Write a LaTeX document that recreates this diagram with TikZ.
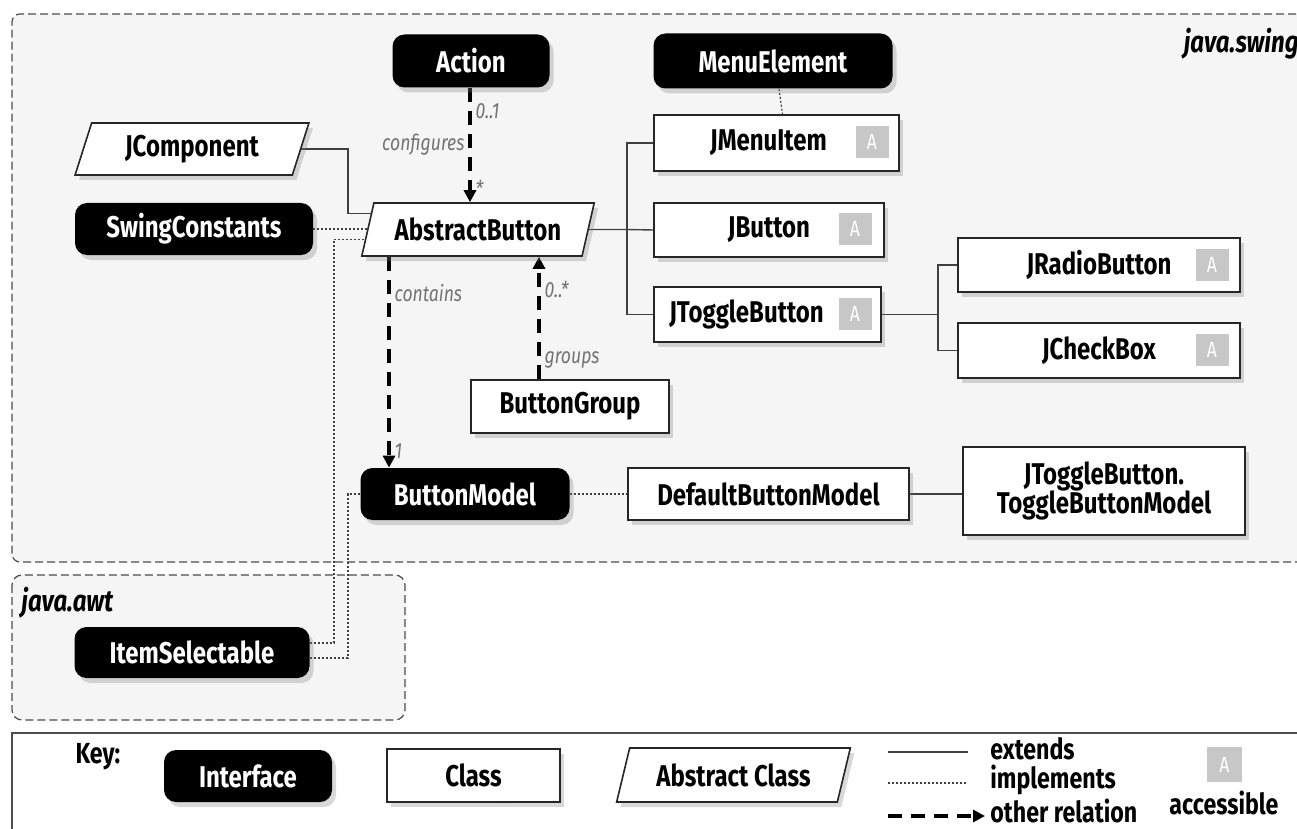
\documentclass[tikz,border=0pt]{standalone}
\usepackage{fontspec}
\setmainfont{Fira Sans}[FakeStretch=0.8]
\usetikzlibrary{arrows.meta}
\usetikzlibrary{shapes.geometric}
\usetikzlibrary{shadows}
\usetikzlibrary{backgrounds}

\tikzset{
  box/.style={font=\fontsize{15}{16.5}\selectfont\bfseries, inner sep=2pt,
    drop shadow={shadow xshift=2pt, shadow yshift=-2.5pt, opacity=0.3}},
  iface/.style={box, fill=black, text=white, rounded corners=6pt},
  cls/.style={box, draw=black!85, line width=0.8pt, fill=white},
  abst/.style={box, draw=black!85, line width=0.8pt, fill=white, trapezium,
    trapezium left angle=72, trapezium right angle=108, trapezium stretches=true},
  acc/.style={fill=black!22, text=white, font=\fontsize{11}{12}\selectfont,
    minimum width=16.5pt, minimum height=16pt, inner sep=0pt},
  ext/.style={draw=black!75, line width=0.7pt},
  impl/.style={draw=black!75, line width=0.6pt, dash pattern=on 1pt off 1pt},
  rel/.style={draw=black, line width=1.6pt, dash pattern=on 7pt off 4.5pt,
    -{Triangle[length=6pt,width=6pt]}},
  lbl/.style={font=\fontsize{11}{12}\selectfont\itshape, text=black!55, inner sep=2pt},
  pkg/.style={draw=black!70, line width=0.6pt, dash pattern=on 4pt off 2pt, fill=black!4},
  pkgname/.style={font=\fontsize{15}{16.5}\selectfont\bfseries\itshape, inner sep=0pt},
  keytext/.style={font=\fontsize{14.5}{16}\selectfont\bfseries, inner sep=0pt},
}

\begin{document}
\begin{tikzpicture}[x=0.5pt, y=-0.5pt]
  \useasboundingbox (0,0) rectangle (1297,829);

  % java.swing
  \node[pkgname, anchor=base east] (swingpkg) at (1299,53) {java.swing};
  \node[iface, minimum width=78.5pt, minimum height=26.5pt] (action) at (471,61) {Action};
  \node[iface, minimum width=119.5pt, minimum height=27.5pt] (menuel) at (773,61) {MenuElement};
  \node[abst, minimum width=117pt, minimum height=26pt] (jcomp) at (192,149) {JComponent};
  \node[iface, minimum width=119pt, minimum height=26pt] (swing) at (194,229) {SwingConstants};
  \node[abst, minimum width=117pt, minimum height=26.5pt] (absbtn) at (478,229.5) {AbstractButton};

  \node[cls, minimum width=122.5pt, minimum height=28pt] (jmenuitem) at (776.5,143) {JMenuItem\hspace*{8pt}};
  \node[acc] (jmenuitemA) at (872,142) {A};
  \node[cls, minimum width=115pt, minimum height=27pt] (jbutton) at (769,230) {JButton};
  \node[acc] (jbuttonA) at (855,229) {A};
  \node[cls, minimum width=113.5pt, minimum height=27.5pt] (jtoggle) at (767.5,314.5) {JToggleButton\hspace*{21pt}};
  \node[acc] (jtoggleA) at (855,314) {A};
  \node[cls, minimum width=141pt, minimum height=27pt] (jradio) at (1099,265) {JRadioButton};
  \node[acc] (jradioA) at (1212,265) {A};
  \node[cls, minimum width=141pt, minimum height=27.5pt] (jcheck) at (1099,350.5) {JCheckBox};
  \node[acc] (jcheckA) at (1212,350) {A};

  \node[cls, minimum width=99pt, minimum height=26.5pt] (btngroup) at (570,406.5) {ButtonGroup};
  \node[iface, minimum width=104.5pt, minimum height=26pt] (btnmodel) at (465,494) {ButtonModel};
  \node[cls, minimum width=140.5pt, minimum height=26pt] (defmodel) at (768.5,494) {DefaultButtonModel};
  \node[cls, minimum width=141pt, minimum height=44pt, align=center] (tbmodel) at (1104,491)
    {JToggleButton.\\[-2pt]ToggleButtonModel};

  % java.awt
  \node[pkgname, anchor=base west] (awtpkg) at (21,611) {java.awt};
  \node[iface, minimum width=117.5pt, minimum height=25.5pt] (itemsel) at (192,652.5) {ItemSelectable};

  % key
  \node[keytext] (keytitle) at (98,757) {Key:};
  \node[iface, minimum width=84pt, minimum height=26pt] (keyiface) at (248,776) {Interface};
  \node[cls, minimum width=86.5pt, minimum height=26.5pt] (keycls) at (473.5,775.5) {Class};
  \node[abst, minimum width=117.5pt, minimum height=27pt] (keyabst) at (733.5,775) {Abstract Class};
  \node[keytext, anchor=west] (extlbl) at (990,749) {extends};
  \node[keytext, anchor=west] (impllbl) at (990,780) {implements};
  \node[keytext, anchor=west] (rellbl) at (990,811) {other relation};
  \node[acc, minimum width=17.5pt, minimum height=17.5pt] (keyacc) at (1224.5,764.5) {A};
  \node[keytext] (acclbl) at (1224,803) {accessible};

  \coordinate (extA) at (888,752);
  \coordinate (extB) at (968,752);
  \coordinate (implA) at (888,783);
  \coordinate (implB) at (968,783);
  \coordinate (relA) at (888,816);
  \coordinate (relB) at (985,816);

  \coordinate (jcbend) at (348,149);
  \coordinate (abfork) at (627,229.5);
  \coordinate (tgfork) at (938,314.5);
  \coordinate (awtbendA) at (334,643);
  \coordinate (awtbendB) at (348,658);
  \coordinate (cfgx) at (470,0);
  \coordinate (contx) at (389,0);
  \coordinate (grpx) at (539,0);

  \begin{pgfonlayer}{background}
    \draw[pkg, rounded corners=4pt] (1320,14) -- (12,14) -- (12,562) -- (1320,562);
    \draw[pkg, rounded corners=5pt] (12,575) rectangle (405,720);
    \draw[black!70, line width=1.1pt, fill=white] (1320,733) -- (12,733) -- (12,850);

    % extends
    \draw[ext] (jcomp.east) -- (jcbend) |- ([shift={(5,-16)}]absbtn.west);
    \draw[ext] (absbtn.east) -- (abfork);
    \draw[ext] (abfork) |- (jmenuitem.west);
    \draw[ext] (abfork) -- (jbutton.west);
    \draw[ext] (abfork) |- (jtoggle.west);
    \draw[ext] (jtoggle.east) -- (tgfork);
    \draw[ext] (tgfork) |- (jradio.west);
    \draw[ext] (tgfork) |- (jcheck.west);
    \draw[ext] (defmodel.east) -- (defmodel.east -| tbmodel.west);

    % implements
    \draw[impl] (swing.east) -- (swing.east -| absbtn.west);
    \draw[impl] ([shift={(-3,10)}]absbtn.west) -| (awtbendA) -- (itemsel.east |- awtbendA);
    \draw[impl] (btnmodel.west) -| (awtbendB) -- (itemsel.east |- awtbendB);
    \draw[impl] (btnmodel) -- (defmodel);
    \draw[impl] ([xshift=3pt]menuel.south) -- ([xshift=3pt]jmenuitem.north);

    % other relations
    \draw[rel] (action.south -| cfgx) --
      node[lbl, pos=0.2, right] {0..1}
      node[lbl, pos=0.5, left] {configures}
      node[lbl, pos=0.88, right] {*} (absbtn.north -| cfgx);
    \draw[rel] (absbtn.south -| contx) --
      node[lbl, pos=0.17, right] {contains}
      node[lbl, pos=0.92, right] {1} (btnmodel.north -| contx);
    \draw[rel] (btngroup.north -| grpx) --
      node[lbl, pos=0.16, right] {groups}
      node[lbl, pos=0.73, right] {0..*} (absbtn.south -| grpx);

    % key
    \draw[ext] (extA) -- (extB);
    \draw[impl] (implA) -- (implB);
    \draw[rel] (relA) -- (relB);
  \end{pgfonlayer}
\end{tikzpicture}
\end{document}
